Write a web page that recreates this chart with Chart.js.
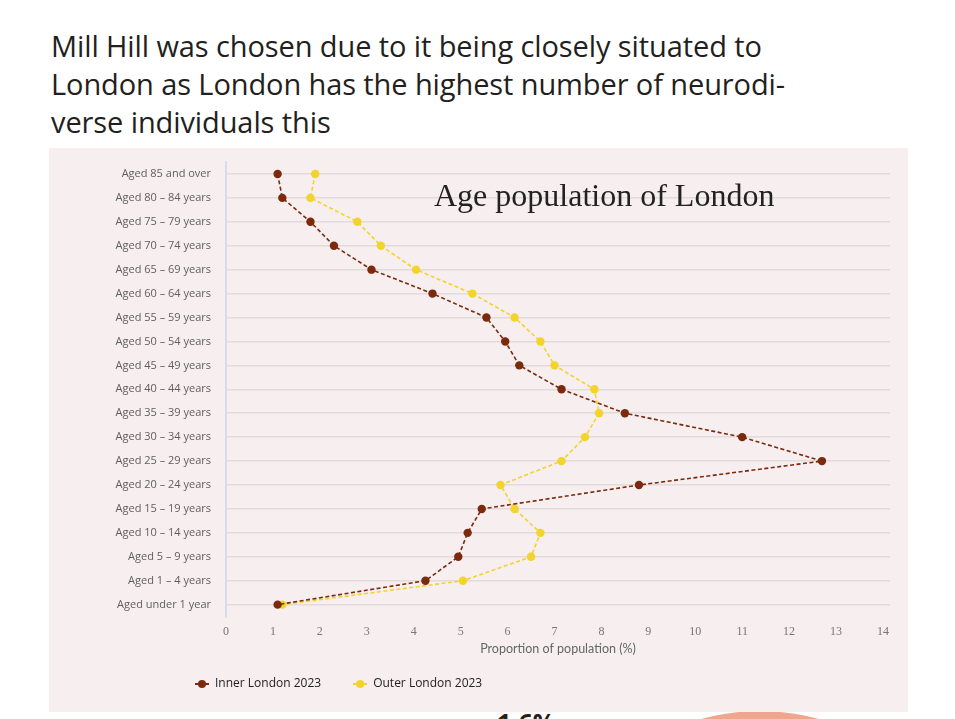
<!DOCTYPE html>
<html>
<head>
<meta charset="utf-8">
<script src="https://cdn.jsdelivr.net/npm/chart.js@4"></script>
<style>
  html, body { margin: 0; padding: 0; background: #ffffff; width: 955px; height: 719px; overflow: hidden; position: relative; }
  #para { position: absolute; left: 51px; top: 27px; font-family: "Open Sans", sans-serif; font-size: 29px; line-height: 38px; color: #231f20; letter-spacing: -0.1px; white-space: nowrap; }
  #panel { position: absolute; left: 49px; top: 148px; width: 859px; height: 564px; background: #f6eeef; z-index: 2; }
  #panel canvas { position: absolute; left: 0; top: 0; }
  #ctitle { position: absolute; left: 385px; top: 29px; font-family: "Liberation Serif", serif; font-size: 32px; color: #222; white-space: nowrap; }
  #pct { position: absolute; left: 497px; top: 705px; font-family: "Open Sans", sans-serif; font-weight: bold; font-size: 25px; color: #2a2015; z-index: 1; }
  #blob { position: absolute; left: 540px; top: 711px; width: 440px; height: 440px; border-radius: 50%; background: #eea68f; z-index: 1; }
</style>
</head>
<body>
<div id="para">Mill Hill was chosen due to it being closely situated to<br>London as London has the highest number of neurodi-<br>verse individuals this</div>
<div id="pct">1.6%</div>
<div id="blob"></div>
<div id="panel">
  <canvas id="c" width="859" height="564"></canvas>
  <div id="ctitle">Age population of London</div>
</div>
<script>
const categories = [
  "Aged 85 and over", "Aged 80 – 84 years", "Aged 75 – 79 years", "Aged 70 – 74 years",
  "Aged 65 – 69 years", "Aged 60 – 64 years", "Aged 55 – 59 years", "Aged 50 – 54 years",
  "Aged 45 – 49 years", "Aged 40 – 44 years", "Aged 35 – 39 years", "Aged 30 – 34 years",
  "Aged 25 – 29 years", "Aged 20 – 24 years", "Aged 15 – 19 years", "Aged 10 – 14 years",
  "Aged 5 – 9 years", "Aged 1 – 4 years", "Aged under 1 year"
];
const innerLondon = [1.1, 1.2, 1.8, 2.3, 3.1, 4.4, 5.55, 5.95, 6.25, 7.15, 8.5, 11.0, 12.7, 8.8, 5.45, 5.15, 4.95, 4.25, 1.1];
const outerLondon = [1.9, 1.8, 2.8, 3.3, 4.05, 5.25, 6.15, 6.7, 7.0, 7.85, 7.95, 7.65, 7.15, 5.85, 6.15, 6.7, 6.5, 5.05, 1.2];
const seriesNames = ["Inner London 2023", "Outer London 2023"];
const xTicks = [0, 1, 2, 3, 4, 5, 6, 7, 8, 9, 10, 11, 12, 13, 14];

const innerColor = "#7b2a0c";
const outerColor = "#f3d42a";

function legendMarker(color) {
  const c = document.createElement("canvas");
  c.width = 14; c.height = 10;
  const g = c.getContext("2d");
  g.strokeStyle = color; g.lineWidth = 2;
  g.beginPath(); g.moveTo(0, 5); g.lineTo(14, 5); g.stroke();
  g.fillStyle = color;
  g.beginPath(); g.arc(7, 5, 4, 0, Math.PI * 2); g.fill();
  return c;
}

// Legend placement: reserve 32px in the layout, then move the box to sit where the reference shows it.
const legendPlace = {
  id: "legendPlace",
  beforeLayout(chart) {
    const lg = chart.legend;
    if (lg && !lg._patchedFit) {
      const origFit = lg.fit;
      lg.fit = function () { origFit.call(this); this.height = 32; };
      lg._patchedFit = true;
    }
  },
  afterLayout(chart) {
    const lg = chart.legend;
    const pad = lg.options.labels.padding;
    const w = lg.right - lg.left;
    lg.left = 146 - pad;
    lg.right = lg.left + w;
    lg.top = 536 - pad - 6;
    lg.bottom = lg.top + pad + 30;
  }
};

Chart.defaults.font.family = "'Open Sans', sans-serif";

new Chart(document.getElementById("c"), {
  type: "line",
  data: {
    labels: categories,
    datasets: [
      {
        label: seriesNames[0], data: innerLondon,
        borderColor: innerColor, backgroundColor: innerColor,
        borderWidth: 1.6, borderDash: [4, 2.5], tension: 0,
        pointRadius: 4.2, pointHoverRadius: 5, pointBorderWidth: 0,
        pointBackgroundColor: innerColor, pointStyle: "circle"
      },
      {
        label: seriesNames[1], data: outerLondon,
        borderColor: outerColor, backgroundColor: outerColor,
        borderWidth: 1.6, borderDash: [4, 2.5], tension: 0,
        pointRadius: 4.2, pointHoverRadius: 5, pointBorderWidth: 0,
        pointBackgroundColor: outerColor, pointStyle: "circle"
      }
    ]
  },
  options: {
    indexAxis: "y",
    responsive: false,
    animation: false,
    layout: { padding: { left: 0, right: 18, top: 14, bottom: 12 } },
    scales: {
      y: {
        type: "category",
        offset: true,
        grid: { color: "#e2dadb", lineWidth: 1.6, drawTicks: true, tickLength: 13, tickColor: "rgba(0,0,0,0)", offset: false },
        border: { display: true, color: "#d8dce8", width: 2 },
        ticks: { padding: 2, color: "#606060", font: { size: 11, family: "'Open Sans', sans-serif" } },
        afterFit(scale) { scale.width = 177; }
      },
      x: {
        type: "linear",
        min: 0, max: 14.15,
        grid: { display: false, drawTicks: false },
        border: { display: false },
        ticks: {
          stepSize: 1, includeBounds: false, padding: 8,
          color: "#777", font: { size: 12, family: "'Liberation Serif', serif" },
          callback: (v) => xTicks.includes(v) ? String(v) : ""
        },
        title: {
          display: true, text: "Proportion of population (%)",
          color: "#666", font: { size: 12.5, family: "Lato, sans-serif" },
          padding: { top: 4, bottom: 12 }
        },
        afterFit(scale) { scale.height = 51.4; }
      }
    },
    plugins: {
      legend: {
        display: true, position: "bottom", align: "start",
        labels: {
          usePointStyle: true, pointStyleWidth: 14, padding: 32,
          color: "#222", font: { size: 12, family: "'Open Sans', sans-serif" },
          generateLabels(chart) {
            return chart.data.datasets.map((ds, i) => ({
              text: ds.label, fillStyle: ds.borderColor, strokeStyle: ds.borderColor,
              fontColor: "#222",
              pointStyle: legendMarker(ds.borderColor), datasetIndex: i, hidden: false, lineWidth: 0
            }));
          }
        }
      },
      title: { display: false },
      tooltip: { enabled: false }
    }
  },
  plugins: [legendPlace]
});
</script>
</body>
</html>
